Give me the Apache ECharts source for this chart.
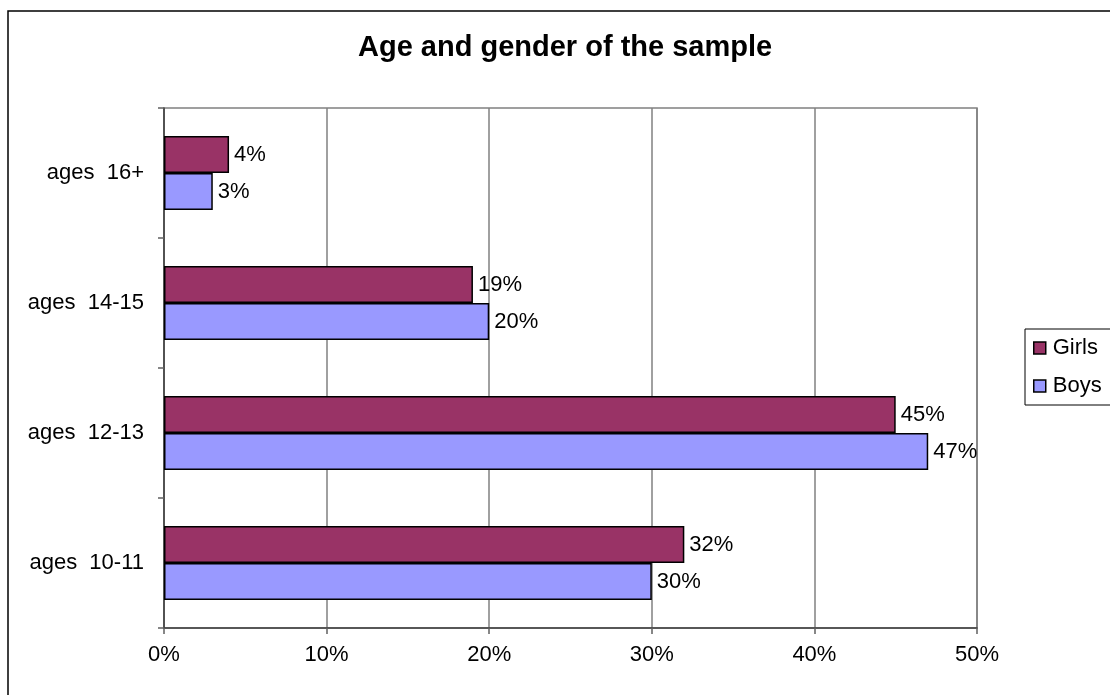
<!DOCTYPE html>
<html>
<head>
<meta charset="utf-8">
<script src="https://cdn.jsdelivr.net/npm/echarts@6/dist/echarts.min.js"></script>
<style>
  html, body { margin: 0; padding: 0; background: #fff; }
  #chart { width: 1110px; height: 695px; }
</style>
</head>
<body>
<div id="chart"></div>
<script>
// Age groups, listed from the bottom of the axis upwards
const categories = ['ages  10-11', 'ages  12-13', 'ages  14-15', 'ages  16+'];
// Share of the sample in each age group, in percent
const girls = [32, 45, 19, 4];
const boys = [30, 47, 20, 3];
// Value axis ticks, in percent
const xTicks = [0, 10, 20, 30, 40, 50];

const FONT = '"Liberation Sans", Arial, sans-serif';
const chart = echarts.init(document.getElementById('chart'), null, { renderer: 'canvas' });

const valueLabel = { show: true, position: 'right', distance: 5, formatter: '{c}%', fontFamily: FONT, fontSize: 22, color: '#000' };

chart.setOption({
  animation: false,
  backgroundColor: '#fff',
  textStyle: { fontFamily: FONT, color: '#000' },
  graphic: [{
    type: 'rect',
    shape: { x: 8, y: 11, width: 1300, height: 900 },
    style: { fill: 'none', stroke: '#000', lineWidth: 1.5 },
    z: 0, silent: true
  }],
  title: {
    text: 'Age and gender of the sample',
    left: 358, top: 33, padding: 0,
    textStyle: { fontFamily: FONT, fontSize: 29, fontWeight: 'bold', color: '#000' }
  },
  legend: {
    orient: 'vertical',
    left: 1025, top: 329,
    data: ['Girls', 'Boys'],
    icon: 'rect',
    itemWidth: 12, itemHeight: 12,
    itemGap: 16,
    padding: [8, 60, 8, 8],
    borderColor: '#000', borderWidth: 1,
    backgroundColor: '#fff',
    textStyle: { fontFamily: FONT, fontSize: 22, lineHeight: 22, color: '#000', padding: [0, 0, 0, 2] },
    itemStyle: { borderColor: '#000', borderWidth: 1.5 }
  },
  grid: {
    left: 164, right: 133, top: 108, bottom: 67,
    show: true, borderColor: '#808080', borderWidth: 1.5, backgroundColor: 'transparent'
  },
  xAxis: {
    type: 'value',
    min: xTicks[0], max: xTicks[xTicks.length - 1], interval: xTicks[1] - xTicks[0],
    axisLine: { show: true, lineStyle: { color: '#404040', width: 1.5 } },
    axisTick: { show: true, length: 6, lineStyle: { color: '#606060', width: 1.5 } },
    splitLine: { show: true, lineStyle: { color: '#808080', width: 1.5 } },
    axisLabel: { formatter: '{value}%', margin: 16, fontFamily: FONT, fontSize: 22, color: '#000' }
  },
  yAxis: {
    type: 'category',
    data: categories,
    axisLine: { show: true, lineStyle: { color: '#404040', width: 1.5 } },
    axisTick: { show: true, length: 6, alignWithLabel: false, lineStyle: { color: '#606060', width: 1.5 } },
    splitLine: { show: false },
    axisLabel: { margin: 20, fontFamily: FONT, fontSize: 22, color: '#000' }
  },
  series: [
    {
      name: 'Girls', type: 'bar', data: girls,
      barGap: '0%', barCategoryGap: '43%',
      itemStyle: { color: '#993366', borderColor: '#000', borderWidth: 1.5 },
      label: valueLabel
    },
    {
      name: 'Boys', type: 'bar', data: boys,
      barGap: '0%', barCategoryGap: '43%',
      itemStyle: { color: '#9999FF', borderColor: '#000', borderWidth: 1.5 },
      label: valueLabel
    }
  ]
});
</script>
</body>
</html>
